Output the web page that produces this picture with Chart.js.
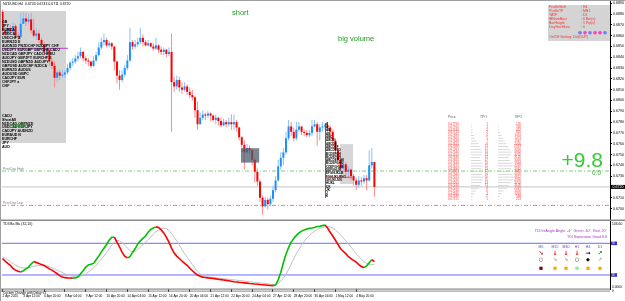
<!DOCTYPE html>
<html>
<head>
<meta charset="utf-8">
<title>NZDUSD,H4</title>
<script src="https://cdn.jsdelivr.net/npm/chart.js@4.4.1/dist/chart.umd.min.js"></script>
<style>
  html, body { margin: 0; padding: 0; background: #fff; overflow: hidden; }
  #wrap { position: relative; width: 625px; height: 301px; }
  canvas { position: absolute; left: 0; }
  #priceChart { top: 0; }
  #oscChart { top: 219px; }
</style>
</head>
<body>
<div id="wrap">
  <canvas id="priceChart" width="625" height="220"></canvas>
  <canvas id="oscChart" width="625" height="82"></canvas>
</div>
<script>
// Dados do gráfico (H4, uma vela por posição)
const symbol = 'NZDUSD,H4';
const firstOpen = 0.6882;
const closes = [
  0.6865,0.6862,0.6867,0.6864,0.6869,0.6860,0.6859,0.6871,0.6876,0.6873,
  0.6875,0.6865,0.6860,0.6862,0.6856,0.6852,0.6845,0.6847,0.6836,0.6832,
  0.6821,0.6826,0.6823,0.6824,0.6826,0.6830,0.6835,0.6836,0.6839,0.6841,
  0.6845,0.6839,0.6837,0.6836,0.6832,0.6837,0.6842,0.6849,0.6854,0.6856,
  0.6851,0.6853,0.6850,0.6836,0.6823,0.6819,0.6824,0.6830,0.6837,0.6854,
  0.6850,0.6852,0.6854,0.6858,0.6854,0.6851,0.6853,0.6850,0.6848,0.6851,
  0.6847,0.6845,0.6847,0.6843,0.6845,0.6817,0.6813,0.6819,0.6812,0.6810,
  0.6813,0.6808,0.6805,0.6803,0.6791,0.6778,0.6784,0.6787,0.6786,0.6788,
  0.6786,0.6782,0.6784,0.6781,0.6777,0.6780,0.6778,0.6780,0.6778,0.6780,
  0.6775,0.6766,0.6759,0.6752,0.6756,0.6754,0.6745,0.6734,0.6725,0.6710,
  0.6702,0.6708,0.6704,0.6709,0.6717,0.6726,0.6739,0.6747,0.6752,0.6765,
  0.6776,0.6771,0.6765,0.6773,0.6776,0.6771,0.6770,0.6768,0.6770,0.6776,
  0.6778,0.6771,0.6775,0.6776,0.6777,0.6775,0.6771,0.6763,0.6754,0.6745,
  0.6737,0.6741,0.6734,0.6736,0.6730,0.6726,0.6722,0.6726,0.6725,0.6728,
  0.6726,0.6740,0.6743,0.6720
];
const highs = [
  0.6884,0.6868,0.6869,0.6870,0.6872,0.6871,0.6863,0.6881,0.6882,0.6881,
  0.6880,0.6881,0.6876,0.6867,0.6865,0.6858,0.6854,0.6850,0.6847,0.6839,
  0.6836,0.6828,0.6828,0.6828,0.6828,0.6834,0.6837,0.6839,0.6842,0.6845,
  0.6849,0.6846,0.6841,0.6839,0.6837,0.6841,0.6845,0.6854,0.6858,0.6862,
  0.6858,0.6855,0.6854,0.6850,0.6837,0.6828,0.6828,0.6833,0.6842,0.6867,
  0.6856,0.6856,0.6858,0.6867,0.6861,0.6856,0.6856,0.6854,0.6853,0.6858,
  0.6852,0.6850,0.6849,0.6848,0.6849,0.6862,0.6822,0.6823,0.6822,0.6817,
  0.6817,0.6815,0.6812,0.6810,0.6804,0.6799,0.6789,0.6791,0.6789,0.6790,
  0.6789,0.6787,0.6787,0.6785,0.6784,0.6783,0.6782,0.6784,0.6787,0.6787,
  0.6782,0.6776,0.6767,0.6763,0.6760,0.6758,0.6756,0.6747,0.6737,0.6727,
  0.6712,0.6711,0.6710,0.6712,0.6721,0.6730,0.6745,0.6752,0.6756,0.6771,
  0.6782,0.6780,0.6775,0.6780,0.6780,0.6776,0.6773,0.6773,0.6773,0.6782,
  0.6782,0.6780,0.6778,0.6780,0.6779,0.6780,0.6777,0.6773,0.6765,0.6756,
  0.6747,0.6745,0.6743,0.6739,0.6737,0.6732,0.6728,0.6730,0.6729,0.6731,
  0.6731,0.6754,0.6756,0.6743
];
const lows = [
  0.6862,0.6858,0.6860,0.6862,0.6862,0.6858,0.6856,0.6858,0.6871,0.6869,
  0.6870,0.6862,0.6858,0.6856,0.6853,0.6850,0.6842,0.6841,0.6832,0.6829,
  0.6812,0.6817,0.6819,0.6821,0.6821,0.6824,0.6828,0.6832,0.6834,0.6836,
  0.6839,0.6836,0.6834,0.6832,0.6830,0.6831,0.6836,0.6841,0.6847,0.6851,
  0.6849,0.6849,0.6847,0.6828,0.6816,0.6810,0.6817,0.6822,0.6828,0.6836,
  0.6847,0.6848,0.6850,0.6852,0.6850,0.6850,0.6850,0.6849,0.6846,0.6847,
  0.6844,0.6842,0.6842,0.6840,0.6841,0.6771,0.6808,0.6810,0.6808,0.6806,
  0.6808,0.6805,0.6802,0.6800,0.6784,0.6773,0.6778,0.6782,0.6782,0.6784,
  0.6781,0.6780,0.6778,0.6777,0.6775,0.6776,0.6775,0.6776,0.6773,0.6773,
  0.6771,0.6763,0.6752,0.6736,0.6750,0.6750,0.6740,0.6724,0.6721,0.6706,
  0.6694,0.6701,0.6699,0.6702,0.6706,0.6715,0.6725,0.6736,0.6740,0.6750,
  0.6763,0.6767,0.6762,0.6763,0.6771,0.6768,0.6767,0.6766,0.6766,0.6767,
  0.6775,0.6758,0.6763,0.6771,0.6773,0.6771,0.6765,0.6759,0.6750,0.6740,
  0.6734,0.6734,0.6730,0.6728,0.6726,0.6721,0.6717,0.6719,0.6721,0.6723,
  0.6717,0.6725,0.6737,0.6711
];
const priceTicks = [0.6890,0.6880,0.6870,0.6860,0.6850,0.6840,0.6830,0.6820,0.6810,0.6800,
  0.6790,0.6780,0.6770,0.6760,0.6750,0.6740,0.6730,0.6720,0.6710,0.6700];
const prevHigh = 0.67347;
const prevLow = 0.67029;
const purpleLevel = 0.68483;
const purpleEnd = 25.2;

// Oscilador (linha principal e sinal)
const oscMain = [
  45,41,37,34,29,26,24,23,25,28,
  31,36,40,38.5,37,35,33.5,31,28,26,
  23,20,17,14.5,13.6,13.3,13.1,12.9,13.1,14.5,
  20,25,31,34.5,35.5,37,43,49,56,62,
  68,75,80,80,72,64,55,49,46,48,
  55,61,69,74,78,82,88,93,95,97,
  96,92,87,80,72,62,54,49,45,41,
  37,34,29,25,21,18,16,14.5,13.8,13.2,
  12.8,12.2,11.6,11,10.4,9.8,9.2,8.5,7.8,7,
  6.5,6,5.6,5.1,4.6,4.1,3.7,3.2,2.8,2.3,
  2,1.6,1.2,0.8,0.5,1.5,10,22,38,52,
  63,72,78,83,87,90,92,93.5,94.5,95,
  96,97.5,98,99,100,95,88,82,75,68,
  61,57,53,48,45,42,39,35,32,30,
  33,38,43,40
];
const oscSignal = [
  48,46,43,40,37,34,32,30,29.5,29.5,
  30,31,32,33,33.5,34,34,33,31.5,30,
  28,26,24,22,20,18.5,17,16,15.2,15.5,
  16,18,20,23,26,29.5,34,39,44,49,
  55,61,67,72,75,74,71,67,62,58,
  56,57,60,64,68,72,76,80,85,89,
  92,94,95,94,91,86,80,74,67,60,
  53,47,41,35,29,24,20,17.5,16,15,
  14.5,14,13.5,13,12.5,12,11.5,11,10.5,10,
  9.5,9,8.5,8,7.5,7,6.5,6,5.5,5,
  4.5,4,3.5,3,2.5,2.5,4,8,13,19,
  27,36,45,53,60,67,73,79,83,87,
  90,92.5,94.5,96,97,97.5,97,95,92,88,
  84,79,74,69,64,58,53,48,44,40,
  37,35.5,35,35.5
];
const oscLevels = [70, 18];

const timeLabels = ['2 Apr 2020','3 Apr 12:00','6 Apr 20:00','8 Apr 04:00','9 Apr 12:00','10 Apr 20:00',
  '14 Apr 04:00','15 Apr 12:00','16 Apr 20:00','20 Apr 04:00','21 Apr 12:00','22 Apr 20:00',
  '24 Apr 04:00','27 Apr 12:00','28 Apr 20:00','30 Apr 04:00','1 May 12:00','4 May 20:00'];
const barsPerLabel = 8;

// Textos dos painéis
const pairList = ['GB','JPY','EURCA','AUDCA','USDCHF A','EURNZD E','AUDNZD PNZDCHF NZDJPY CHF',
  'USDJPY EURGBP GBPCHF CADJ','NZDCAD GBPJPY CADCHF EU','AUDJPY GBPJPY EURCHF E','NZDUSD GBPNZD AUDJPY',
  'GBPUSD AUDCHF NZDCA','EURNZD AUDUS','AUDUSD GBPC','CADJPY EUR','CHFJPY a','CHF'];
const pairList2 = ['CADJ','ShortAll','NZDCAD GBPNZD','USDCAD EURJPY','CADJPY AUDNZD','EURAUD N','EURCHF','JPY','AUD'];
const infoLines = [['ProfileShift','H4'],['ProfileTF','MN1'],['TATF','D1'],['IBNumBars','6 Bar(s)'],
  ['BarHeight','1 Pip(s)'],['DayStartHour','0']];
const infoDots = ['#6a7cff','#ff3fb4','#6a7cff','#ff3fb4','#ff3fb4','#6a7cff'];
const profPrices = ['0.67790','0.67765','0.67740','0.67715','0.67690','0.67665','0.67640','0.67615',
  '0.67590','0.67565','0.67540','0.67515','0.67490','0.67465','0.67440','0.67415','0.67390','0.67365',
  '0.67340','0.67315','0.67290','0.67265','0.67240','0.67215','0.67190','0.67165','0.67140','0.67115'];
const profTPO = [1,1,2,2,4,5,7,9,11,12,14,13,11,12,14,15,13,12,14,16,15,13,11,9,6,4,2,1];
const profVPO = [126,240,417,655,1051,1473,1967,2405,2973,3310,3862,3702,3120,3416,3944,4287,3761,
  3485,4029,4612,4390,3702,3108,2491,1650,1097,544,213];
const mpRows = ['A','A','AB','AB','ABC','ABCD','ABCDE','ABCDEF','ABCDEFG','BCDEFGH','BCDEFGH','ABCDEFGHI',
  'BCDEFGHIJ','CDEFGHIJK','DEFGHIJK','EFGHIJKLM','FGHIJKLMNO','GHIJKLMN','HIJKL','IJK','JK','J','K'];
const mpPocRow = 16;
const darkBox = { x0: 91.7, x1: 98.7, top: 0.67558, bottom: 0.67425 };
const lightBox = { x0: 129.8, x1: 134.8, top: 0.67596, bottom: 0.67226 };
const tfNames = ['M5','M15','M30','H1','H4','D1'];
const tfArrows = ['↘','↓','↓','↓','→','↗'];
const tfArrowColors = ['#e00000','#ff0000','#ff0000','#ff0000','#000000','#119911'];
const tfMarks = ['○','↘','↘','○','◆','↗'];
const tfMarkColors = ['#000','#a0a0a0','#a0a0a0','#000','#000','#a0a0a0'];
const tfBoxes = ['#800000','#ffa500','#ffa500','#90ee90','#ffa500','#ffa500'];

// Escalas
const X_MIN = -0.2, X_MAX = 233.6;
const PRICE_MIN = 0.66903, PRICE_MAX = 0.68921;
const OSC_MIN = -5, OSC_MAX = 106.6;
const FONT = 'Liberation Sans, Arial, sans-serif';
const SYM = 'DejaVu Sans, sans-serif';
const BULL = '#1e8fff', BEAR = '#ff0000';
const BULL_WICK = '#86c2ff', BEAR_WICK = '#ff8a8a';

const idx = closes.map((_, i) => i);
// abertura = fechamento anterior
const opens = closes.map((c, i) => i === 0 ? firstOpen : closes[i - 1]);
const isUp = i => closes[i] >= opens[i];
const hline = v => [{ x: X_MIN, y: v }, { x: X_MAX, y: v }];

function lineDs(data, color, dash) {
  return { type: 'line', data, borderColor: color, borderWidth: 1, borderDash: dash || [],
    pointRadius: 0, fill: false, order: 3 };
}

function txt(ctx, s, x, y, size, color, align, weight, family) {
  ctx.font = (weight || 'normal') + ' ' + size + 'px ' + (family || FONT);
  ctx.fillStyle = color;
  ctx.textAlign = align || 'left';
  ctx.textBaseline = 'middle';
  ctx.fillText(s, x, y);
}

function dataRect(chart, b) {
  const x = chart.scales.x, y = chart.scales.y;
  const l = x.getPixelForValue(b.x0), r = x.getPixelForValue(b.x1);
  const t = y.getPixelForValue(b.top), btm = y.getPixelForValue(b.bottom);
  return [l, t, r - l, btm - t];
}

const priceDecor = {
  id: 'priceDecor',
  beforeDatasetsDraw(chart) {
    const ctx = chart.ctx;
    ctx.save();
    ctx.fillStyle = '#d4d4d4';
    ctx.fillRect(0, 11, 66, 132);
    ctx.fillRect(548, 5, 62, 36);
    ctx.fillStyle = '#d6d6d6';
    ctx.fillRect(...dataRect(chart, lightBox));
    ctx.restore();
  },
  afterDatasetsDraw(chart) {
    const ctx = chart.ctx;
    const ys = chart.scales.y;
    ctx.save();
    // caixa escura
    ctx.globalAlpha = 0.75;
    ctx.fillStyle = '#4c5c6c';
    ctx.fillRect(...dataRect(chart, darkBox));
    ctx.globalAlpha = 1;

    // título
    const n = closes.length - 1;
    txt(ctx, symbol + '  ' + opens[n].toFixed(4) + ' ' + highs[n].toFixed(4) + ' ' +
      lows[n].toFixed(4) + ' ' + closes[n].toFixed(4), 3, 4, 3.5, '#000');

    // lista de pares à esquerda
    pairList.forEach((s, k) => txt(ctx, s, 2, 22 + 4 * k, 3.6, '#000', 'left', 'bold'));
    pairList2.forEach((s, k) => txt(ctx, s, 2, 115.7 + 3.9 * k, 3.6, '#000', 'left', 'bold'));
    txt(ctx, 'NZDJPY', 12, 125.5, 3.6, '#2a9a2a', 'left', 'bold');

    // anotações
    txt(ctx, 'short', 232, 12.5, 7.5, '#229922');
    txt(ctx, 'big volume', 338, 38.5, 7.5, '#229922');
    txt(ctx, 'PrevDay High', 3, 169, 3.4, '#808080');
    txt(ctx, 'PrevDay Low', 3, 203, 3.4, '#808080');

    // painel de configurações
    infoLines.forEach((r, k) => {
      txt(ctx, r[0], 549, 7.3 + 4 * k, 3.5, '#ff3030');
      txt(ctx, ': ' + r[1], 581, 7.3 + 4 * k, 3.5, '#ff3030');
    });
    infoDots.forEach((c, k) => {
      ctx.beginPath();
      ctx.arc(580 + 5 * k, 32.7, 1.8, 0, Math.PI * 2);
      ctx.fillStyle = c;
      ctx.fill();
    });
    txt(ctx, 'On/Off Setting: Del(DUP)', 549, 37.3, 3.5, '#ff3030');

    // perfil TPO (letras)
    ctx.fillStyle = '#404040';
    ctx.fillRect(325, 123, 0.8, 75);
    mpRows.forEach((s, k) => txt(ctx, s, 326, 124 + 3.3 * k, 3, '#000', 'left', 'bold'));
    ctx.fillStyle = '#ff2020';
    ctx.fillRect(325, 124 + 3.3 * mpPocRow, 27, 0.8);

    // tabela Price / TPO / VPO
    txt(ctx, 'Price', 448, 117.3, 3.4, '#606060');
    txt(ctx, 'TPO', 480, 117.3, 3.4, '#606060');
    txt(ctx, 'VPO', 515, 117.3, 3.4, '#606060');
    const maxT = Math.max(...profTPO), maxV = Math.max(...profVPO);
    profPrices.forEach((p, k) => {
      const y = 124.3 + 2.78 * k;
      ctx.fillStyle = '#cfcfcf';
      ctx.fillRect(471, y - 0.4, 13 * profTPO[k] / maxT, 0.8);
      ctx.fillRect(498, y - 0.4, 16 * profVPO[k] / maxV, 0.8);
      txt(ctx, p, 448, y, 3, '#ff4040');
      txt(ctx, String(profTPO[k]), 488, y, 3, '#ff4040', 'right');
      txt(ctx, String(profVPO[k]), 521, y, 3, '#ff4040', 'right');
    });

    // variação
    ctx.font = '21px ' + FONT;
    ctx.fillStyle = '#33cc33';
    ctx.textAlign = 'right';
    ctx.textBaseline = 'alphabetic';
    ctx.fillText('+9.8', 603, 167);
    txt(ctx, '0.0', 601, 173, 6.5, '#44aa44', 'right');
    ctx.restore();
  },
  afterDraw(chart) {
    const ctx = chart.ctx;
    const py = chart.scales.y.getPixelForValue(closes[closes.length - 1]);
    ctx.save();
    ctx.fillStyle = '#000';
    ctx.fillRect(611, py - 2, 14, 4);
    txt(ctx, closes[closes.length - 1].toFixed(4), 612.5, py, 3.6, '#fff');
    ctx.fillStyle = '#a0a0a0';
    ctx.fillRect(0, 0, 625, 1);
    ctx.fillRect(0, 0, 1, 220);
    ctx.restore();
  }
};

Chart.defaults.font.family = FONT;

new Chart(document.getElementById('priceChart'), {
  type: 'bar',
  data: {
    datasets: [
      { type: 'bar', data: idx.map(i => ({ x: i, y: [opens[i], closes[i]] })), grouped: false,
        barThickness: 2, minBarLength: 1, inflateAmount: 0, borderWidth: 0,
        backgroundColor: c => isUp(c.dataIndex) ? BULL : BEAR, order: 0 },
      { type: 'bar', data: idx.map(i => ({ x: i, y: [lows[i], highs[i]] })), grouped: false,
        barThickness: 1, inflateAmount: 0, borderWidth: 0,
        backgroundColor: c => isUp(c.dataIndex) ? BULL_WICK : BEAR_WICK, order: 1 },
      lineDs(hline(prevHigh), '#7ccf7c', [4, 2, 1, 2]),
      lineDs(hline(prevLow), '#ff7a7a', [4, 2, 1, 2]),
      lineDs(hline(closes[closes.length - 1]), '#c4c4c4'),
      lineDs([{ x: X_MIN, y: purpleLevel }, { x: purpleEnd, y: purpleLevel }], '#b848c8')
    ]
  },
  options: {
    responsive: false,
    animation: false,
    events: [],
    layout: { padding: { left: 2, right: 0, top: 1, bottom: 1 } },
    plugins: { legend: { display: false }, tooltip: { enabled: false } },
    scales: {
      x: { type: 'linear', display: false, min: X_MIN, max: X_MAX, offset: false, grid: { offset: false } },
      y: {
        type: 'linear', position: 'right', min: PRICE_MIN, max: PRICE_MAX,
        afterBuildTicks: s => { s.ticks = priceTicks.map(v => ({ value: v })); },
        afterFit: s => { s.width = 15; s.paddingTop = 0; s.paddingBottom = 0; },
        ticks: { autoSkip: false, font: { size: 3.6 }, color: '#000', padding: 1, callback: v => v.toFixed(4) },
        grid: { drawOnChartArea: false, tickLength: 2, color: '#000' },
        border: { display: true, color: '#000', width: 1 }
      }
    }
  },
  plugins: [priceDecor]
});

const oscDecor = {
  id: 'oscDecor',
  afterDraw(chart) {
    const ctx = chart.ctx;
    const ys = chart.scales.y;
    ctx.save();
    ctx.fillStyle = '#8a8a8a';
    ctx.fillRect(0, 0.5, 625, 1.5);
    ctx.fillRect(0, 69.5, 610, 1.2);
    ctx.fillRect(0, 71.6, 610, 1);
    ctx.fillStyle = '#a0a0a0';
    ctx.fillRect(0, 0, 1, 82);

    txt(ctx, 'TDI Ma Ma (32,10)', 3, 5.3, 3.5, '#000');
    txt(ctx, 'Custom Change with Delay v.1', 3, 74, 3.2, '#000');

    txt(ctx, 'TDI IntAngle Angle: -4°  Green: 40°  Red: 20°', 607, 12, 3.6, '#a040c0', 'right');
    txt(ctx, 'TDI Separation Good 8.8', 607, 17.7, 3.6, '#a040c0', 'right');

    const cx = [541, 555, 566, 577, 588, 600];
    tfNames.forEach((s, k) => {
      txt(ctx, s, cx[k], 27.7, 3.5, '#6a3cb0', 'center');
      txt(ctx, tfArrows[k], cx[k], 34.3, 6, tfArrowColors[k], 'center', 'bold', SYM);
      txt(ctx, tfMarks[k], cx[k], 41, 5, tfMarkColors[k], 'center', 'bold', SYM);
      ctx.fillStyle = tfBoxes[k];
      ctx.fillRect(cx[k] - 1.6, 47.7, 3.2, 3.2);
    });

    // etiquetas do eixo direito
    txt(ctx, OSC_MAX.toFixed(2), 612, 4.8, 3.4, '#000');
    oscLevels.forEach(v => {
      const py = ys.getPixelForValue(v);
      ctx.fillStyle = '#3333cc';
      ctx.fillRect(611, py - 1.8, 6, 3.6);
      txt(ctx, String(v), 611.5, py, 2.8, '#fff');
    });
    txt(ctx, '0.0000', 612, 67.8, 3.2, '#000');
    txt(ctx, '0', 612, 71.8, 3.2, '#000');
    ctx.restore();
  }
};

new Chart(document.getElementById('oscChart'), {
  type: 'line',
  data: {
    datasets: [
      { data: idx.map(i => ({ x: i, y: oscSignal[i] })), borderColor: '#c0c0c0', borderWidth: 1,
        pointRadius: 0, order: 1 },
      { data: idx.map(i => ({ x: i, y: oscMain[i] })), borderColor: '#ff0000', borderWidth: 1.6,
        pointRadius: 0, order: 0,
        segment: { borderColor: c => c.p1.parsed.y >= c.p0.parsed.y ? '#00c000' : '#ff0000' } },
      ...oscLevels.map(v => ({ data: hline(v), borderColor: '#6b6bff', borderWidth: 1, pointRadius: 0, order: 2 }))
    ]
  },
  options: {
    responsive: false,
    animation: false,
    events: [],
    layout: { padding: { left: 2, right: 0, top: 2, bottom: 0 } },
    plugins: { legend: { display: false }, tooltip: { enabled: false } },
    scales: {
      x: {
        type: 'linear', position: 'bottom', min: X_MIN, max: X_MAX, offset: false,
        afterBuildTicks: s => { s.ticks = timeLabels.map((t, k) => ({ value: k * barsPerLabel })); },
        afterFit: s => { s.height = 12; },
        ticks: { autoSkip: false, maxRotation: 0, minRotation: 0, align: 'start', padding: 2,
          font: { size: 3.2 }, color: '#000', callback: (v, i) => timeLabels[i] },
        grid: { drawOnChartArea: false, tickLength: 3, color: '#000' },
        border: { display: false }
      },
      y: {
        type: 'linear', position: 'right', min: OSC_MIN, max: OSC_MAX,
        afterFit: s => { s.width = 15; s.paddingTop = 0; s.paddingBottom = 0; },
        ticks: { display: false },
        grid: { display: false },
        border: { display: true, color: '#000', width: 1 }
      }
    }
  },
  plugins: [oscDecor]
});
</script>
</body>
</html>
